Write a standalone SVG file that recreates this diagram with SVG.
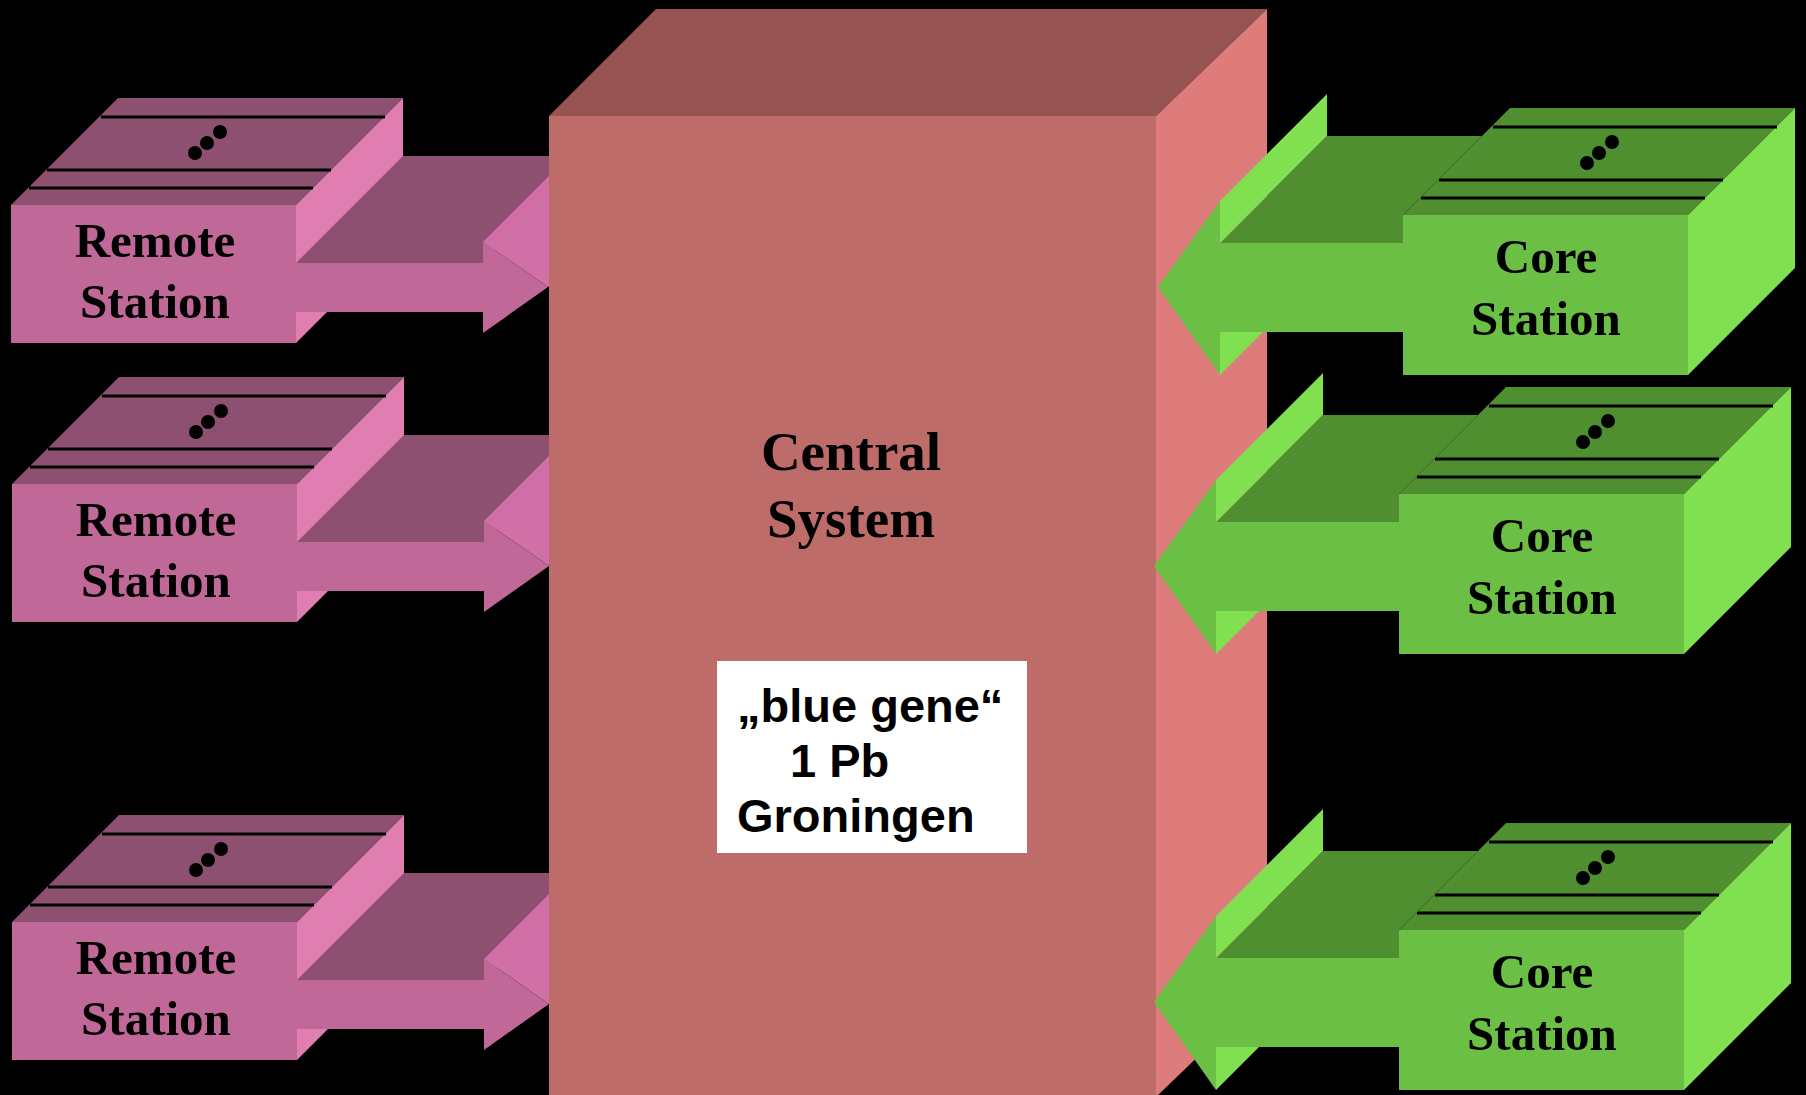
<svg xmlns="http://www.w3.org/2000/svg" xmlns:xlink="http://www.w3.org/1999/xlink" width="1806" height="1095" viewBox="0 0 1806 1095">
  <style>
    .rFront { fill: #C06898; }
    .rTop { fill: #8E5070; }
    .rSide { fill: #E07EB2; }
    .rSlope { fill: #D070A6; }
    .gFront { fill: #6CBF45; }
    .gTop { fill: #4F8F30; }
    .gSide { fill: #80E050; }
    .cFront { fill: #BE6C6A; }
    .cTop { fill: #955452; }
    .cSide { fill: #DE7C7C; }
    .ln { stroke: #000; stroke-width: 3; fill: none; }
    .dot { fill: #000; }
    .lbl { font-family: "Liberation Serif", "Times New Roman", serif; font-weight: bold; font-size: 49px; fill: #000; text-anchor: middle; }
    .big { font-family: "Liberation Serif", "Times New Roman", serif; font-weight: bold; font-size: 55px; fill: #000; text-anchor: middle; }
    .note { font-family: "Liberation Sans", Arial, sans-serif; font-weight: bold; font-size: 47px; fill: #000; }
  </style>
  <defs>
    <g id="topDeco">
      <line class="ln" x1="90" y1="-88" x2="374" y2="-88"/>
      <line class="ln" x1="36" y1="-35" x2="320" y2="-35"/>
      <line class="ln" x1="18" y1="-17" x2="302" y2="-17"/>
      <circle class="dot" cx="184" cy="-52" r="7"/>
      <circle class="dot" cx="196" cy="-62" r="7"/>
      <circle class="dot" cx="209" cy="-73" r="7"/>
    </g>
    <g id="remoteBox">
      <polygon class="rTop" points="0,0 107,-107 392,-107 285,0"/>
      <polygon class="rSide" points="285,0 392,-107 392,31 285,138"/>
      <rect class="rFront" x="0" y="0" width="285" height="138"/>
      <use xlink:href="#topDeco"/>
    </g>
    <g id="coreBox">
      <polygon class="gTop" points="0,0 107,-107 392,-107 285,0"/>
      <polygon class="gSide" points="285,0 392,-107 392,53 285,160"/>
      <rect class="gFront" x="0" y="0" width="285" height="160"/>
      <use xlink:href="#topDeco"/>
    </g>
    <g id="remoteArrow">
      <polygon class="rTop" points="285,58 472,58 579,-49 392,-49"/>
      <polygon class="rSlope" points="472,37 537,82 644,-25 579,-70"/>
      <polygon class="rFront" points="285,58 472,58 472,37 537,82 472,128 472,107 285,107"/>
    </g>
    <g id="coreArrow">
      <polygon class="gTop" points="-183,28 0,28 0,0 79,-79 -76,-79"/>
      <polygon class="gSide" points="-183,-14 -183,28 -76,-79 -76,-121"/>
      <polygon class="gSide" points="-183,117 -183,160 -140,117"/>
      <polygon class="gFront" points="0,28 -183,28 -183,-14 -245,72 -183,160 -183,117 0,117"/>
    </g>
    <clipPath id="leftOfCentral" clipPathUnits="userSpaceOnUse">
      <rect x="0" y="0" width="549" height="1095"/>
    </clipPath>
  </defs>

  <rect x="0" y="0" width="1806" height="1095" fill="#000"/>

  <g id="central-system">
    <polygon class="cTop" points="549,116 656,9 1267,9 1156,116"/>
    <polygon class="cSide" points="1156,116 1267,9 1267,990 1156,1097"/>
    <rect class="cFront" x="549" y="116" width="607" height="981"/>
    <text class="big" x="851" y="470">Central</text>
    <text class="big" x="851" y="537">System</text>
    <g id="blue-gene-label">
      <rect x="717" y="661" width="310" height="192" fill="#FFFFFF"/>
      <text class="note" x="737" y="722">„blue gene“</text>
      <text class="note" x="790" y="777">1 Pb</text>
      <text class="note" x="737" y="832">Groningen</text>
    </g>
  </g>

  <g id="remote-station-1" transform="translate(11,205)">
    <use xlink:href="#remoteBox"/>
    <text class="lbl" x="144" y="52">Remote</text>
    <text class="lbl" x="144" y="113">Station</text>
  </g>
  <g id="remote-station-2" transform="translate(12,484)">
    <use xlink:href="#remoteBox"/>
    <text class="lbl" x="144" y="52">Remote</text>
    <text class="lbl" x="144" y="113">Station</text>
  </g>
  <g id="remote-station-3" transform="translate(12,922)">
    <use xlink:href="#remoteBox"/>
    <text class="lbl" x="144" y="52">Remote</text>
    <text class="lbl" x="144" y="113">Station</text>
  </g>

  <g id="core-station-1" transform="translate(1403,215)">
    <use xlink:href="#coreBox"/>
    <text class="lbl" x="143" y="58">Core</text>
    <text class="lbl" x="143" y="120">Station</text>
  </g>
  <g id="core-station-2" transform="translate(1399,494)">
    <use xlink:href="#coreBox"/>
    <text class="lbl" x="143" y="58">Core</text>
    <text class="lbl" x="143" y="120">Station</text>
  </g>
  <g id="core-station-3" transform="translate(1399,930)">
    <use xlink:href="#coreBox"/>
    <text class="lbl" x="143" y="58">Core</text>
    <text class="lbl" x="143" y="120">Station</text>
  </g>

  <g id="connectors">
    <g clip-path="url(#leftOfCentral)">
      <use xlink:href="#remoteArrow" transform="translate(11,205)"/>
      <use xlink:href="#remoteArrow" transform="translate(12,484)"/>
      <use xlink:href="#remoteArrow" transform="translate(12,922)"/>
    </g>
    <use xlink:href="#coreArrow" transform="translate(1403,215)"/>
    <use xlink:href="#coreArrow" transform="translate(1399,494)"/>
    <use xlink:href="#coreArrow" transform="translate(1399,930)"/>
  </g>
</svg>
